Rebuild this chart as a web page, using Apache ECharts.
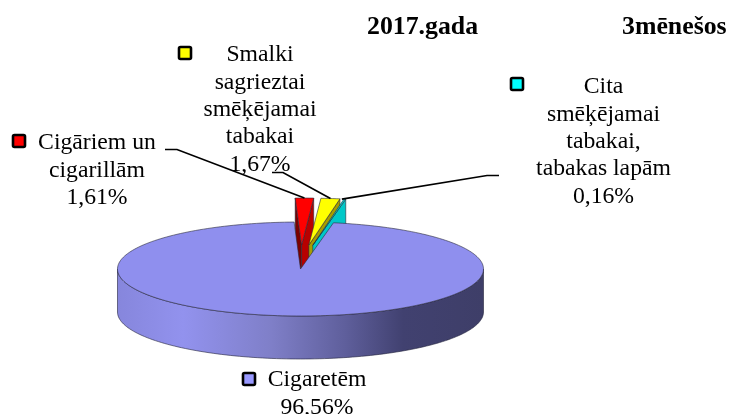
<!DOCTYPE html>
<html>
<head>
<meta charset="utf-8">
<style>
  html, body { margin: 0; padding: 0; background: #fff; }
  #chart { width: 729px; height: 414px; }
</style>
<script src="https://cdn.jsdelivr.net/npm/echarts@6/dist/echarts.min.js"></script>
</head>
<body>
<div id="chart"></div>
<script>
// slice order is clockwise from the top of the pie
const categories = ["Cigāriem un cigarillām", "Smalki sagrieztai smēķējamai tabakai", "Cita smēķējamai tabakai, tabakas lapām", "Cigaretēm"];
const shares = [1.61, 1.67, 0.16, 96.56];
const labelLines = [
  ["Cigāriem un", "cigarillām"],
  ["Smalki", "sagrieztai", "smēķējamai", "tabakai"],
  ["Cita", "smēķējamai", "tabakai,", "tabakas lapām"],
  ["Cigaretēm"]
];
const titleParts = ["2017.gada", "3mēnešos"];

const topColors = ["#ff0000", "#ffff00", "#00d8d8", "#8f8fee"];
const keyColors = ["#ff0000", "#ffff00", "#00ffff", "#9999ff"];
const leftWall = ["#7c0000", "#a89c00", "#009c9c", "#5c5c99"];
const rightWall = ["#b80000", "#a89c00", "#00c8c8", "#5c5c99"];

const cx = 300.5, cy = 269, rx = 183, ry = 47, depth = 43;
const startDeg = -2;
// exploded slices: the view squeezes the pull-out differently per axis
const pullX = 70, pullY = 24;

const FONT = '"Liberation Serif", "Times New Roman", serif';
const rad = d => d * Math.PI / 180;

let acc = startDeg;
const ranges = shares.map(v => {
  const from = acc;
  acc += v * 3.6;
  return [from, acc];
});

function origin(i) {
  if (i === shares.length - 1) return [cx, cy];
  const mid = rad((ranges[i][0] + ranges[i][1]) / 2);
  return [cx + pullX * Math.sin(mid), cy - pullY * Math.cos(mid)];
}

function rimPoint(o, deg, drop) {
  return [o[0] + rx * Math.sin(rad(deg)), o[1] - ry * Math.cos(rad(deg)) + (drop || 0)];
}

function arc(o, from, to, drop) {
  const pts = [];
  const n = Math.max(2, Math.ceil((to - from) / 1.5));
  for (let k = 0; k <= n; k++) pts.push(rimPoint(o, from + (to - from) * k / n, drop));
  return pts;
}

function face(points, fill, stroke) {
  return {
    type: "polygon",
    shape: { points: points },
    style: { fill: fill, stroke: stroke || "#2a2a3a", lineWidth: 0.6 }
  };
}

const sideGradient = new echarts.graphic.LinearGradient(0, 0, 1, 0, [
  { offset: 0, color: "#8686dc" },
  { offset: 0.18, color: "#9292ee" },
  { offset: 0.42, color: "#7f7fc8" },
  { offset: 0.62, color: "#5f5f9c" },
  { offset: 0.78, color: "#414170" },
  { offset: 1, color: "#3e3e68" }
]);

function renderSlice(params, api) {
  const i = api.value(1);
  const [from, to] = ranges[i];
  const o = origin(i);
  const bottom = [o[0], o[1] + depth];
  const children = [];

  // a radial wall only shows when it faces the viewer
  if (Math.sin(rad(from)) < 0) {
    children.push(face([o, rimPoint(o, from), rimPoint(o, from, depth), bottom], leftWall[i]));
  }
  if (Math.sin(rad(to)) > 0) {
    children.push(face([o, rimPoint(o, to), rimPoint(o, to, depth), bottom], rightWall[i]));
  }

  // outer wall, front half of the rim only
  const a = Math.max(from, 90), b = Math.min(to, 270);
  if (a < b) {
    const upper = arc(o, a, b, 0);
    const lower = arc(o, a, b, depth).reverse();
    children.push(face(upper.concat(lower), sideGradient, "#22223a"));
  }

  children.push(face([o].concat(arc(o, from, to, 0)), topColors[i]));
  return { type: "group", children: children };
}

function textEl(text, x, y, bold, align) {
  return {
    type: "text",
    z: 10,
    style: {
      text: text,
      x: x,
      y: y,
      fill: "#000",
      font: (bold ? "bold 25.8px " : "23.7px ") + FONT,
      textAlign: align || "center",
      textVerticalAlign: "middle"
    }
  };
}

function keyEl(x, y, color) {
  return {
    type: "rect",
    z: 10,
    shape: { x: x, y: y, width: 12, height: 12, r: 1.5 },
    style: { fill: color, stroke: "#000", lineWidth: 2.6 }
  };
}

function leader(i, x0, x1, y, nudge) {
  const mid = (ranges[i][0] + ranges[i][1]) / 2;
  const end = rimPoint(origin(i), mid);
  end[0] += nudge || 0;
  return {
    type: "polyline",
    z: 11,
    shape: { points: [[x0, y], [x1, y], end] },
    style: { stroke: "#000", lineWidth: 1.7, fill: null }
  };
}

function labelBlock(i, centerX, firstY) {
  const lines = labelLines[i].concat(shares[i].toFixed(2).replace(".", ",") + "%");
  return lines.map((t, k) => textEl(t, centerX, firstY + k * 27.4));
}

const graphics = [
  textEl(titleParts[0], 367, 27, true, "left"),
  textEl(titleParts[1], 622, 27, true, "left"),
  ...labelBlock(0, 97, 143),
  ...labelBlock(1, 260, 55),
  ...labelBlock(2, 603.5, 87),
  ...labelBlock(3, 317, 380),
  keyEl(13, 135, keyColors[0]),
  keyEl(179, 47, keyColors[1]),
  keyEl(511, 78, keyColors[2]),
  keyEl(243, 373, keyColors[3]),
  leader(0, 165, 177, 149.5),
  leader(1, 272, 283, 172.5),
  leader(2, 499, 487, 175.5, -3)
];

const chart = echarts.init(document.getElementById("chart"), null, { renderer: "canvas" });
chart.setOption({
  animation: false,
  backgroundColor: "#fff",
  graphic: { elements: graphics },
  series: [
    {
      type: "custom",
      coordinateSystem: "none",
      renderItem: renderSlice,
      silent: true,
      data: shares.map((v, i) => ({ name: categories[i], value: [v, i] }))
    }
  ]
});
</script>
</body>
</html>
